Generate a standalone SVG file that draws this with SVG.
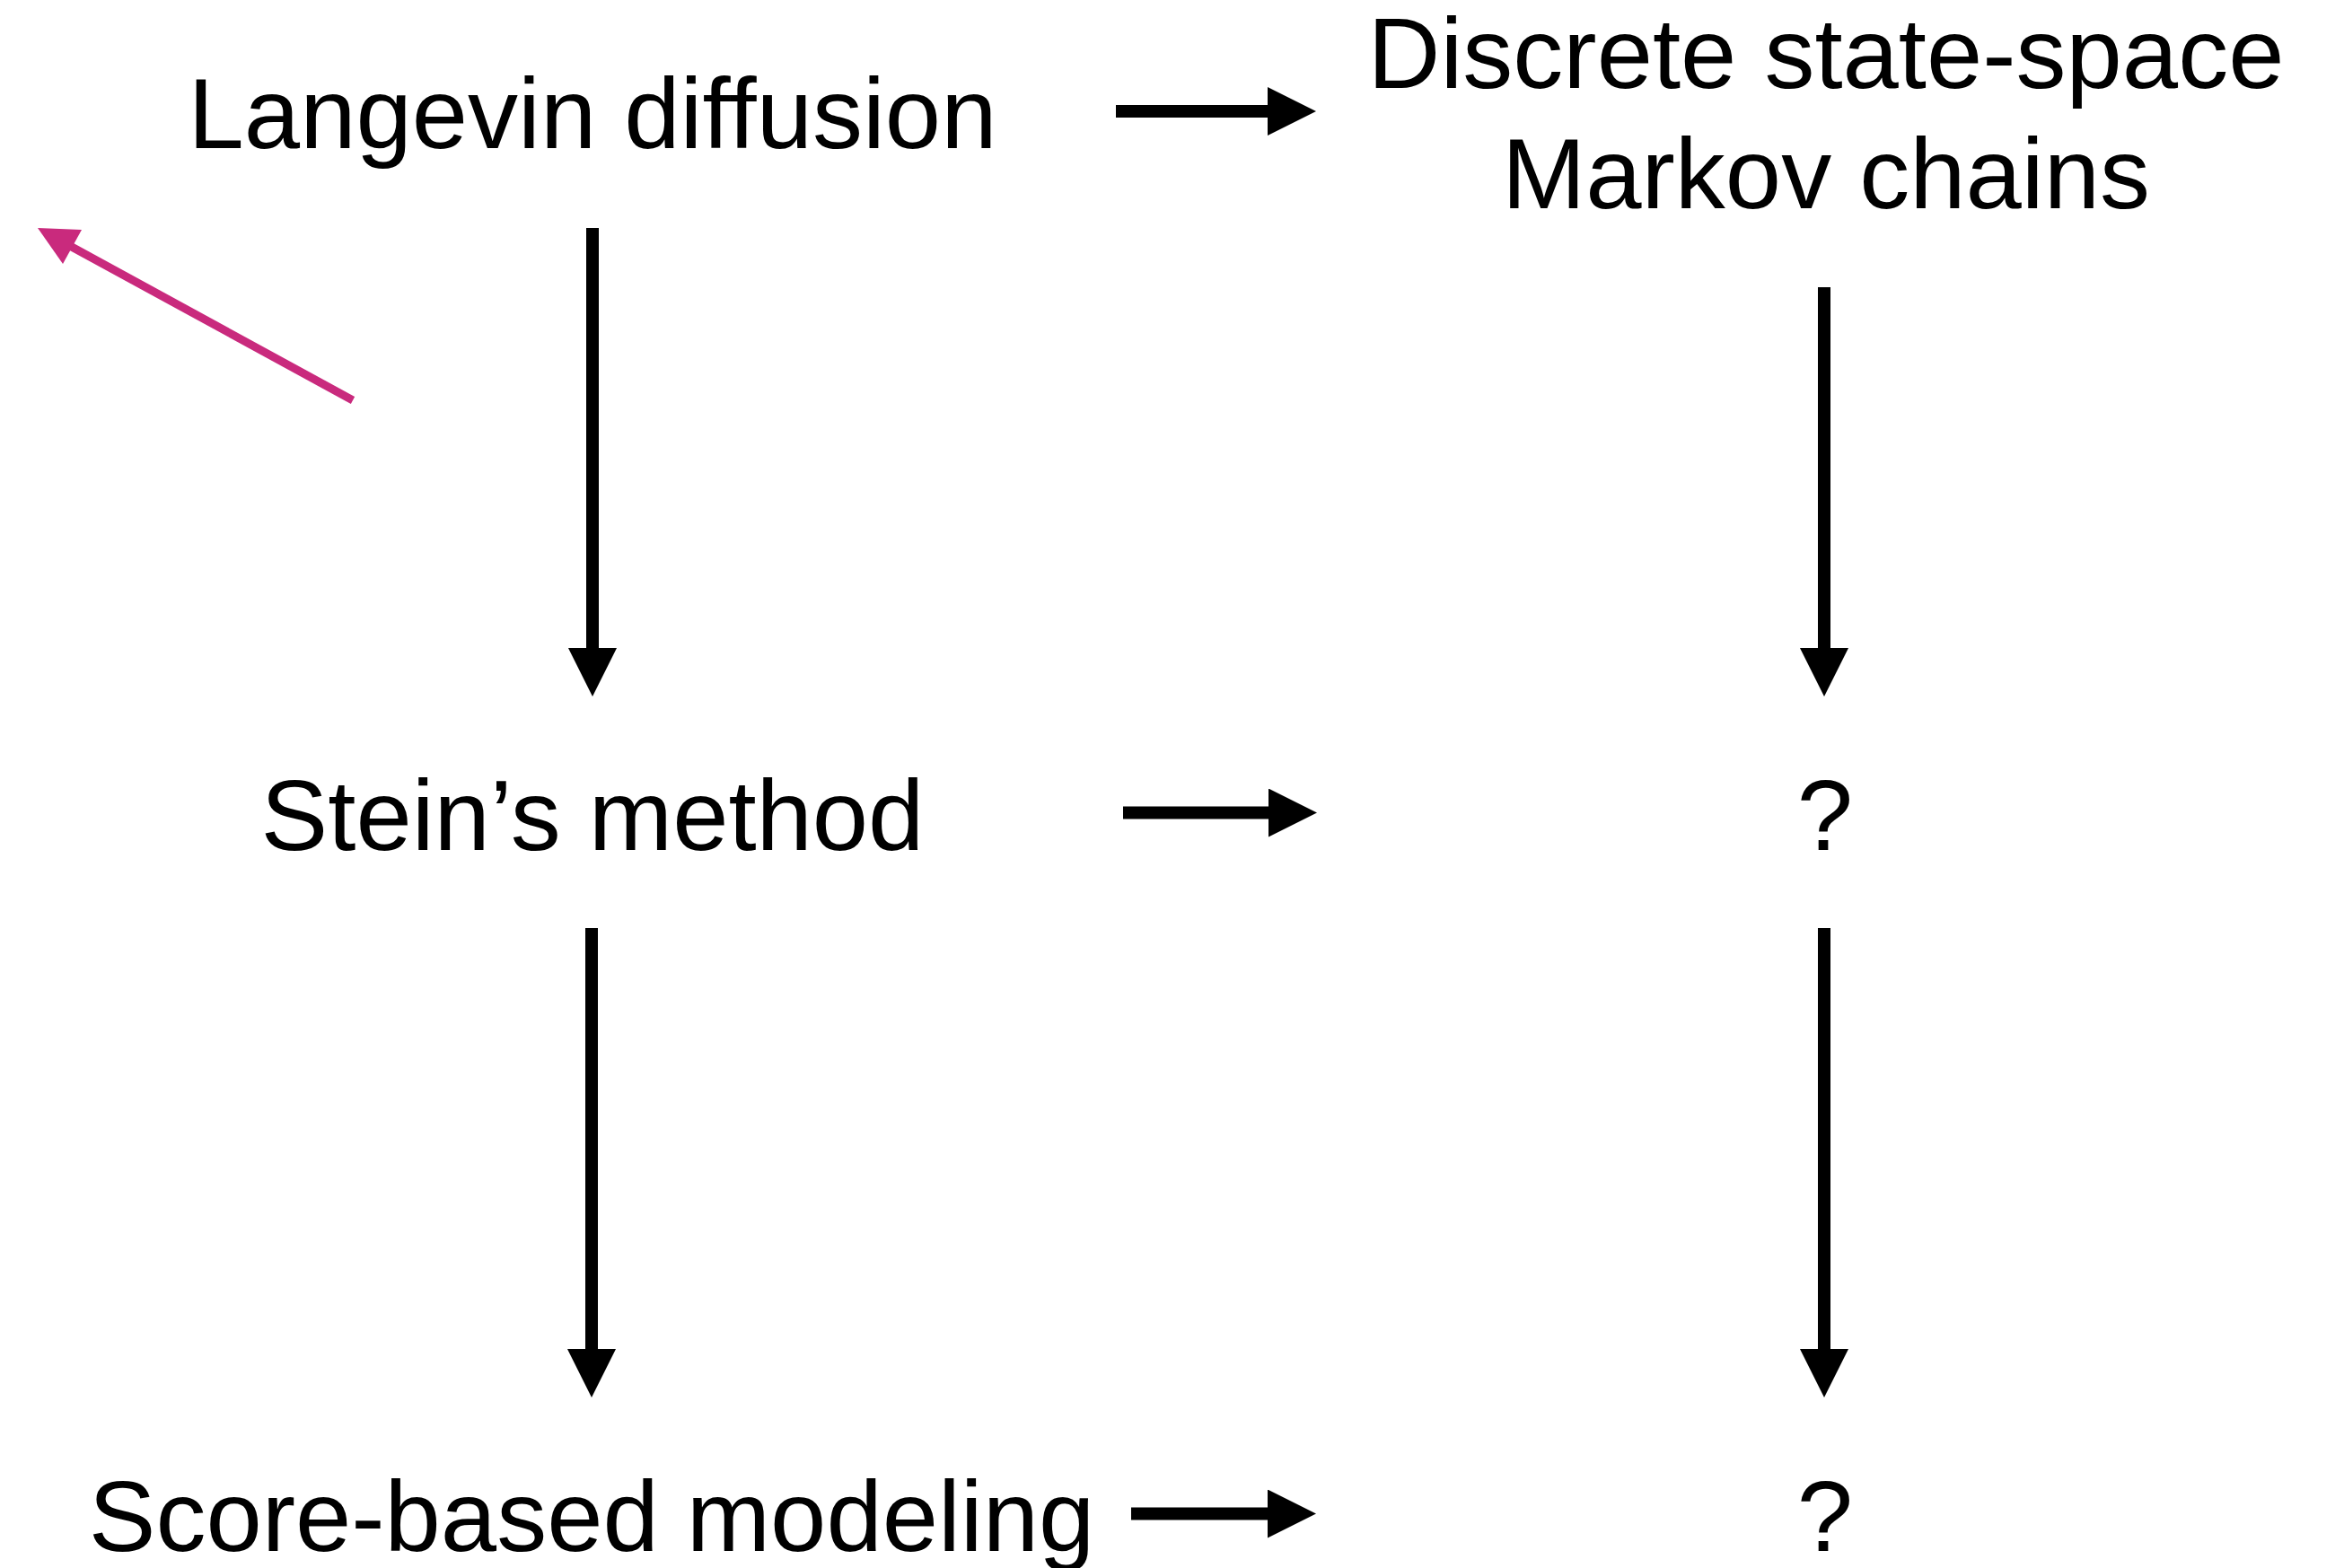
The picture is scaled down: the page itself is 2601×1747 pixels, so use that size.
<svg xmlns="http://www.w3.org/2000/svg" width="2601" height="1747" viewBox="0 0 2601 1747">
<style>
  .lbl { font-family: "Liberation Sans", Arial, Helvetica, sans-serif; font-size: 112px; fill: #000; text-anchor: middle; }
  .conn { stroke: #000; stroke-width: 14; fill: none; }
  .pink { stroke: #C92A7D; stroke-width: 9; fill: none; }
</style>
<defs>
  <marker id="ah" viewBox="0 0 54 54" refX="2" refY="27" markerWidth="54" markerHeight="54" markerUnits="userSpaceOnUse" orient="auto">
    <path d="M0,0 L54,27 L0,54 z" fill="#000"/>
  </marker>
</defs>
<rect width="2601" height="1747" fill="#fff"/>
<g id="connectors">
  <line class="conn" x1="1243" y1="124" x2="1414" y2="124" marker-end="url(#ah)"/>
  <line class="conn" x1="1251" y1="905.5" x2="1415" y2="905.5" marker-end="url(#ah)"/>
  <line class="conn" x1="1260" y1="1686.5" x2="1414" y2="1686.5" marker-end="url(#ah)"/>
  <line class="conn" x1="660" y1="254" x2="660" y2="724" marker-end="url(#ah)"/>
  <line class="conn" x1="659" y1="1034" x2="659" y2="1505" marker-end="url(#ah)"/>
  <line class="conn" x1="2032" y1="320" x2="2032" y2="724" marker-end="url(#ah)"/>
  <line class="conn" x1="2032" y1="1034" x2="2032" y2="1505" marker-end="url(#ah)"/>
  <g id="pink-arrow">
    <line class="pink" x1="393" y1="446" x2="78" y2="274"/>
    <polygon points="42,254 91,256 70,294" fill="#C92A7D"/>
  </g>
</g>
<g id="node-langevin"><text class="lbl" x="660" y="165">Langevin diffusion</text></g>
<g id="node-discrete"><text class="lbl" x="2034" y="98">Discrete state-space</text><text class="lbl" x="2034" y="232">Markov chains</text></g>
<g id="node-stein"><text class="lbl" x="660" y="947">Stein’s method</text></g>
<g id="node-q1"><text class="lbl" x="2033" y="947">?</text></g>
<g id="node-score"><text class="lbl" x="659" y="1728">Score-based modeling</text></g>
<g id="node-q2"><text class="lbl" x="2033" y="1728">?</text></g>
</svg>
